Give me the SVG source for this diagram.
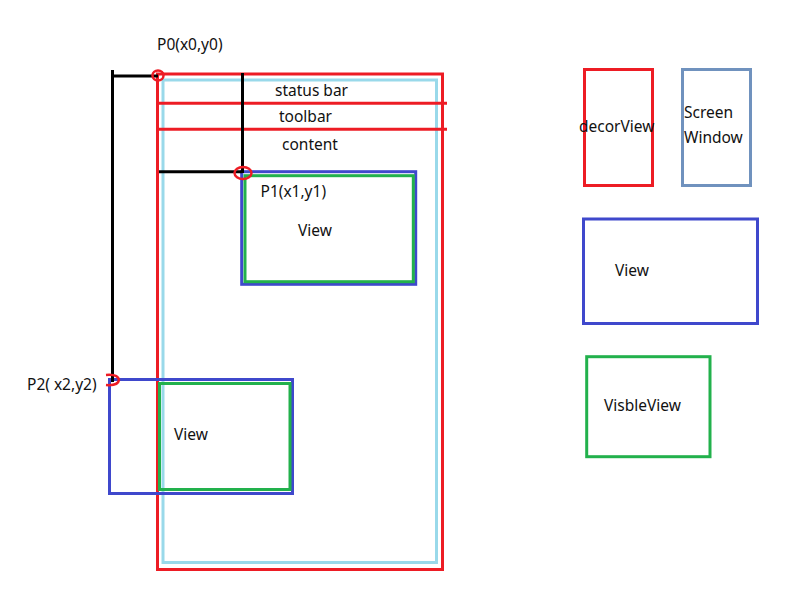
<svg xmlns="http://www.w3.org/2000/svg" width="797" height="607" viewBox="0 0 797 607">
<style>
text{font-family:"Noto Sans","Liberation Sans",sans-serif;font-size:15.5px;fill:#111}
.r{fill:none;stroke:#ED1C24;stroke-width:3}
.lb{fill:none;stroke:#99D9EA;stroke-width:3}
.b{fill:none;stroke:#3F48CC;stroke-width:3}
.g{fill:none;stroke:#22B14C;stroke-width:3}
.sb{fill:none;stroke:#7092BE;stroke-width:3}
.k{fill:none;stroke:#000;stroke-width:3}
.m{fill:none;stroke:#ED1C24;stroke-width:2.5}
</style>
<rect width="797" height="607" fill="#fff"/>
<g id="decor-main">
<rect class="r" x="157.5" y="74" width="285" height="495.5"/>
<rect class="lb" x="163" y="80" width="273.5" height="482.5"/>
<line class="r" x1="159" y1="103.3" x2="447" y2="103.3"/>
<line class="r" x1="159" y1="129.3" x2="447" y2="129.3"/>
<text x="275" y="96">status bar</text>
<text x="279" y="122">toolbar</text>
<text x="282" y="150">content</text>
</g>
<g id="view1">
<rect class="b" x="241.7" y="171.7" width="174" height="112.6"/>
<rect class="g" x="245" y="175.7" width="168.3" height="106"/>
<text x="260.5" y="197">P1(x1,y1)</text>
<text x="298" y="236">View</text>
</g>
<g id="view2">
<rect class="b" x="109.5" y="379.5" width="183" height="114"/>
<rect class="g" x="159.5" y="383.5" width="130.5" height="106"/>
<text x="174" y="440">View</text>
</g>
<g id="connectors">
<polyline class="k" points="112.5,70 112.5,382"/>
<line class="k" x1="111" y1="76" x2="158" y2="76"/>
<line class="k" x1="242.5" y1="73" x2="242.5" y2="173"/>
<line class="k" x1="159" y1="171.7" x2="242" y2="171.7"/>
<ellipse class="m" cx="158" cy="75.5" rx="5.5" ry="5"/>
<ellipse class="m" cx="243" cy="173" rx="8.5" ry="6"/>
<path class="m" d="M106,375 Q118,374 119,380 Q118,386 106,385"/>
</g>
<g id="labels">
<text x="157" y="50">P0(x0,y0)</text>
<text x="27" y="390">P2( x2,y2)</text>
</g>
<g id="legend-decor">
<rect class="r" x="584.5" y="69.5" width="68" height="116"/>
<text x="579" y="132">decorView</text>
</g>
<g id="legend-window">
<rect class="sb" x="682.5" y="69.5" width="68" height="116"/>
<text x="684" y="118">Screen</text>
<text x="684" y="143">Window</text>
</g>
<g id="legend-view">
<rect class="b" x="583.5" y="219" width="174" height="104.5"/>
<text x="615" y="276">View</text>
</g>
<g id="legend-visible">
<rect class="g" x="586.7" y="356.7" width="123.3" height="100"/>
<text x="604" y="411">VisbleView</text>
</g>
</svg>
